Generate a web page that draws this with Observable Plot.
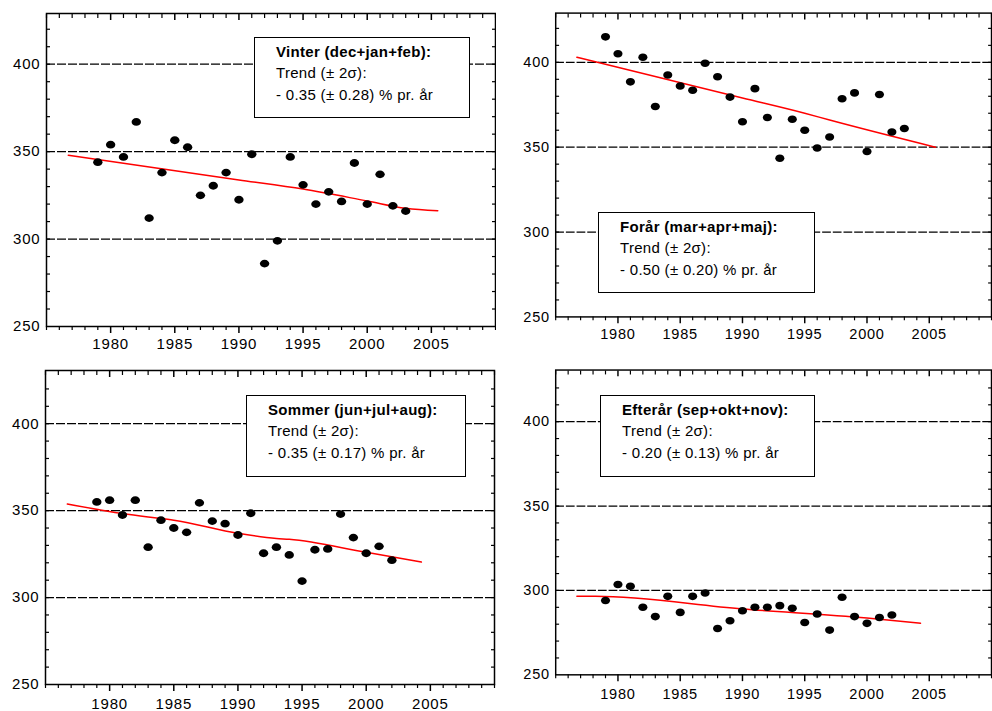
<!DOCTYPE html>
<html><head><meta charset="utf-8">
<script src="https://cdn.jsdelivr.net/npm/d3@7"></script>
<script src="https://cdn.jsdelivr.net/npm/@observablehq/plot@0.6"></script>
<style>
body{margin:0;background:#fff;}
#wrap{position:relative;width:992px;height:711px;overflow:hidden;background:#fff;font-family:"Liberation Sans",Arial,sans-serif;}
.panel{position:absolute;}
.panel svg text{letter-spacing:0.8px;}
.box{position:absolute;box-sizing:border-box;border:1.5px solid #000;background:#fff;font-size:15px;line-height:21.3px;letter-spacing:0.3px;color:#000;padding:3px 0 0 21px;white-space:nowrap;}
.box b{font-weight:bold;}
</style></head>
<body>
<div id="wrap"></div>
<script>
// ---- data ----
const years = [1979,1980,1981,1982,1983,1984,1985,1986,1987,1988,1989,1990,1991,1992,1993,1994,1995,1996,1997,1998,1999,2000,2001,2002,2003];
const vinter = [344,354,347,367,312,338,356.5,352.5,325,330.5,338,322.5,348.5,286,299,347,331,320,327,321.5,343.5,320,337,319,316];
const foraar = [415,405,388.5,403,374,392.5,386,383.5,399.5,391.5,379.5,365,384.5,367.5,343.5,366.5,360,349.5,356,378.5,382,347.5,381,359,361];
const sommer = [355,356,347.5,356,329,344.5,340,337.5,354.5,344,342.5,336,348.5,325.5,329,324.5,309.5,327.5,328,348,334.5,325.5,329.5,321.5];
const efteraar = [294,303.5,302.5,290,284.5,296.5,287,296.5,298.5,277.5,282,288,290,290,291,289.5,281,286,276.5,296,284.5,280.5,284,285.5];

const trendVinterX = [1976.7,1990,1995,2000,2003,2005.5];
const trendVinterY = [348,333.8,328.6,321.8,317.6,316.2];
const trendForaarX = [1976.7,1990,1995,1997,2005.5];
const trendForaarY = [403,379,370,366,350];
const trendSommerX = [1976.7,1981,1983,1985,1990,1993,1994,2000,2004.3];
const trendSommerY = [353.8,348.3,346.3,344.5,337,334,333.5,326,320.4];
const trendEfterX = [1976.7,1978.2,1990,2000,2004.3];
const trendEfterY = [296.5,296.5,289,283.7,280.6];

const xTickLabels = [1980,1985,1990,1995,2000,2005];
const xMinor = [1975,1976,1977,1978,1979,1981,1982,1983,1984,1986,1987,1988,1989,1991,1992,1993,1994,1996,1997,1998,1999,2001,2002,2003,2004,2006,2007,2008,2009,2010];
const yTickLabels = [250,300,350,400];
const yMinor = [260,270,280,290,300,310,320,330,340,350,360,370,380,390,400,410,420];
const gridY = [300,350,400];

const legends = [
  ["Vinter (dec+jan+feb):","Trend (± 2σ):","- 0.35 (± 0.28) % pr. år"],
  ["Forår (mar+apr+maj):","Trend (± 2σ):","- 0.50 (± 0.20) % pr. år"],
  ["Sommer (jun+jul+aug):","Trend (± 2σ):","- 0.35 (± 0.17) % pr. år"],
  ["Efterår (sep+okt+nov):","Trend (± 2σ):","- 0.20 (± 0.13) % pr. år"]
];

// ---- helpers ----
const ellipse = {draw(ctx){ const rx=4.7, ry=3.9, k=0.5523;
  ctx.moveTo(rx,0);
  ctx.bezierCurveTo(rx,k*ry,k*rx,ry,0,ry);
  ctx.bezierCurveTo(-k*rx,ry,-rx,k*ry,-rx,0);
  ctx.bezierCurveTo(-rx,-k*ry,-k*rx,-ry,0,-ry);
  ctx.bezierCurveTo(k*rx,-ry,rx,-k*ry,rx,0);
  ctx.closePath(); }};

const tickOnly = {fill:"none", label:null, tickFormat:()=>"", stroke:"#000"};

function panel(cfg){
  const pts = cfg.values.map((v,i)=>({year: years[i], value: v}));
  const tr = cfg.tx.map((x,i)=>({year:x, value: cfg.ty[i]}));
  const p = Plot.plot({
    width: cfg.width, height: cfg.height,
    marginLeft: cfg.mL, marginRight: cfg.mR, marginTop: cfg.mT, marginBottom: cfg.mB,
    x: {domain:[1975,2010], axis:null},
    y: {domain:[250,cfg.yTop], axis:null},
    style: {fontFamily:"Liberation Sans, Arial, sans-serif", fontSize:"15px", background:"transparent", color:"#000"},
    marks: [
      Plot.ruleY(gridY, {stroke:"#000", strokeWidth:1.3, strokeDasharray:"9,2"}),
      // bottom ticks (outward)
      Plot.axisX(xMinor, {anchor:"bottom", tickSize:4, strokeWidth:1.2, ...tickOnly}),
      Plot.axisX(xTickLabels, {anchor:"bottom", tickSize:7, strokeWidth:1.5, ...tickOnly}),
      // top ticks (inward)
      Plot.axisX(xMinor, {anchor:"top", tickSize:-4, strokeWidth:1.2, ...tickOnly}),
      Plot.axisX(xTickLabels, {anchor:"top", tickSize:-6, strokeWidth:1.5, ...tickOnly}),
      // left/right ticks (inward)
      Plot.axisY(yMinor, {anchor:"left", tickSize:-4, strokeWidth:1.2, ...tickOnly}),
      Plot.axisY(yMinor, {anchor:"right", tickSize:-4, strokeWidth:1.2, ...tickOnly}),
      // labels
      Plot.axisX(xTickLabels, {anchor:"bottom", tickSize:0, tickPadding:cfg.xPad, fontSize:15, label:null, fill:"#000", tickFormat:d=>String(d)}),
      Plot.axisY(yTickLabels, {anchor:"left", tickSize:0, tickPadding:6, fontSize:15, label:null, fill:"#000", tickFormat:d=>String(d)}),
      Plot.frame({stroke:"#000", strokeWidth:1.5}),
      Plot.line(tr, {x:"year", y:"value", stroke:"#ff0000", strokeWidth:1.5, curve:"monotone-x"}),
      Plot.dot(pts, {x:"year", y:"value", fill:"#000", stroke:"none", symbol:ellipse})
    ]
  });
  const div = document.createElement("div");
  div.className = "panel";
  div.style.left = cfg.left+"px"; div.style.top = cfg.top+"px";
  div.appendChild(p);
  document.getElementById("wrap").appendChild(div);

  const box = document.createElement("div");
  box.className = "box";
  const [bl,bt,bw,bh] = cfg.box;
  box.style.left = bl+"px"; box.style.top = bt+"px"; box.style.width = bw+"px"; box.style.height = bh+"px";
  const L = legends[cfg.idx];
  box.innerHTML = `<b>${L[0]}</b><br>${L[1]}<br>${L[2]}`;
  document.getElementById("wrap").appendChild(box);
}

panel({idx:0, values:vinter, tx:trendVinterX, ty:trendVinterY, left:0, top:0, width:496, height:355, mL:46, mR:1, mT:13, mB:29, yTop:429, xPad:12, box:[254,37,216,81]});
panel({idx:1, values:foraar, tx:trendForaarX, ty:trendForaarY, left:496, top:0, width:511, height:355, mL:61, mR:1, mT:13, mB:29, yTop:429, xPad:12, box:[598,212,217,81]});
panel({idx:2, values:sommer, tx:trendSommerX, ty:trendSommerY, left:0, top:355, width:496, height:356, mL:45, mR:2, mT:15, mB:27, yTop:430.6, xPad:14, box:[246,395,220,82]});
panel({idx:3, values:efteraar, tx:trendEfterX, ty:trendEfterY, left:496, top:355, width:511, height:356, mL:61, mR:1, mT:15, mB:27, yTop:430.6, xPad:14, box:[600,395,215,82]});
</script>
</body></html>
